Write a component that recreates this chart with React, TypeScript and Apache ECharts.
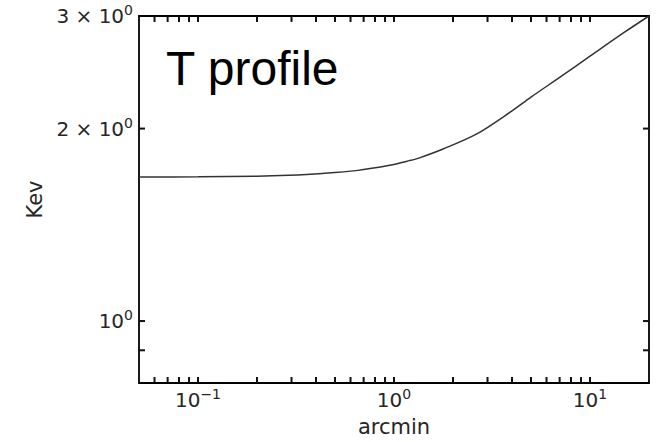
import React, { useEffect, useRef } from "react";
import * as echarts from "echarts";

// Curve (arcmin, keV)
const radiusArcmin = [0.05, 0.1, 0.2, 0.29, 0.43, 0.64, 0.95, 1.2, 1.35, 1.78, 2.63, 3.9, 5, 7, 10, 15, 20];
const temperatureKev = [1.68, 1.681, 1.685, 1.691, 1.702, 1.719, 1.752, 1.782, 1.8, 1.858, 1.96, 2.12, 2.24, 2.405, 2.596, 2.83, 3.0];

// Axis ranges
const xRange = [0.05, 20];
const yRange = [0.8, 3];

// Tick marks (raw values)
const xTickValues = [
  0.06, 0.07, 0.08, 0.09, 0.1,
  0.2, 0.3, 0.4, 0.5, 0.6, 0.7, 0.8, 0.9, 1,
  2, 3, 4, 5, 6, 7, 8, 9, 10,
];
const xLabelValues = [0.1, 1, 10];
const yTickValues = [0.9, 1, 2];
const yLabelValues = [1, 2, 3];
const yLabelTexts = ["{b|10}{s|0}", "{b|2 × 10}{s|0}", "{b|3 × 10}{s|0}"];

const lg = (v: number) => Math.log10(v);

const FONT = "DejaVu Sans";
const TXT = "#262626";
const TICK_LEN = 6;
const TICK_W = 2;

const rich = {
  b: { fontSize: 20, lineHeight: 26, fontFamily: FONT, color: TXT },
  s: { fontSize: 14, lineHeight: 14, verticalAlign: "top", fontFamily: FONT, color: TXT },
};

const xFormatter = (v: number) => {
  const e = Math.round(v);
  const es = e < 0 ? "\u2212" + Math.abs(e) : String(e);
  return `{b|10}{s|${es}}`;
};
const yFormatter = (v: number) => {
  for (let i = 0; i < yLabelValues.length; i++) {
    if (Math.abs(lg(yLabelValues[i]) - v) < 1e-6) return yLabelTexts[i];
  }
  return "";
};

export default function App() {
  const ref = useRef<HTMLDivElement>(null);
  useEffect(() => {
    if (!ref.current) return;
    const chart = echarts.init(ref.current, undefined, { renderer: "svg" });
    const mkAxisLine = () => ({ show: true, onZero: false, lineStyle: { color: "#000", width: 1.8 } });

    const xMin = lg(xRange[0]);
    const xMax = lg(xRange[1]);
    const yMin = lg(yRange[0]);
    const yMax = lg(yRange[1]);

    chart.setOption({
      animation: false,
      backgroundColor: "#fff",
      grid: { left: 139, right: 12, top: 16, bottom: 56, containLabel: false },
      xAxis: [
        {
          type: "value",
          min: xMin,
          max: xMax,
          position: "bottom",
          axisLine: mkAxisLine(),
          axisTick: { show: false },
          splitLine: { show: false },
          name: "arcmin",
          nameLocation: "middle",
          nameGap: 33,
          nameTextStyle: { fontSize: 21, fontFamily: FONT, color: TXT },
          axisLabel: {
            show: true,
            margin: 4,
            customValues: xLabelValues.map(lg),
            formatter: xFormatter,
            rich,
          },
        },
        {
          type: "value",
          min: xMin,
          max: xMax,
          position: "top",
          axisLine: mkAxisLine(),
          axisTick: { show: false },
          splitLine: { show: false },
          axisLabel: { show: false },
        },
      ],
      yAxis: [
        {
          type: "value",
          min: yMin,
          max: yMax,
          position: "left",
          axisLine: mkAxisLine(),
          axisTick: { show: false },
          splitLine: { show: false },
          name: "Kev",
          nameLocation: "middle",
          nameGap: 91,
          nameTextStyle: { fontSize: 21, fontFamily: FONT, color: TXT },
          axisLabel: {
            show: true,
            margin: 6,
            customValues: yLabelValues.map(lg),
            formatter: yFormatter,
            rich,
          },
        },
        {
          type: "value",
          min: yMin,
          max: yMax,
          position: "right",
          axisLine: mkAxisLine(),
          axisTick: { show: false },
          splitLine: { show: false },
          axisLabel: { show: false },
        },
      ],
      graphic: [
        {
          type: "text",
          left: 166,
          top: 44,
          style: {
            text: "T profile",
            fontSize: 48,
            fontFamily: "Liberation Sans, Arial, sans-serif",
            fill: "#000",
          },
        },
      ],
      series: [
        {
          type: "line",
          xAxisIndex: 0,
          yAxisIndex: 0,
          data: radiusArcmin.map((r, i) => [lg(r), lg(temperatureKev[i])]),
          showSymbol: false,
          smooth: 0.3,
          lineStyle: { color: "#333", width: 1.5 },
          z: 3,
        },
        {
          // x-axis tick marks (bottom and top, pointing inward)
          type: "custom",
          xAxisIndex: 0,
          yAxisIndex: 0,
          data: xTickValues.map((v) => [lg(v), yMin]),
          silent: true,
          z: 4,
          renderItem: (params: any, api: any) => {
            const b = api.coord([api.value(0), yMin]);
            const t = api.coord([api.value(0), yMax]);
            return {
              type: "group",
              children: [
                { type: "rect", shape: { x: b[0] - TICK_W / 2, y: b[1] - TICK_LEN, width: TICK_W, height: TICK_LEN }, style: { fill: "#111" } },
                { type: "rect", shape: { x: t[0] - TICK_W / 2, y: t[1], width: TICK_W, height: TICK_LEN }, style: { fill: "#111" } },
              ],
            };
          },
        },
        {
          // y-axis tick marks (left and right, pointing inward)
          type: "custom",
          xAxisIndex: 0,
          yAxisIndex: 0,
          data: yTickValues.map((v) => [xMin, lg(v)]),
          silent: true,
          z: 4,
          renderItem: (params: any, api: any) => {
            const l = api.coord([xMin, api.value(1)]);
            const r = api.coord([xMax, api.value(1)]);
            return {
              type: "group",
              children: [
                { type: "rect", shape: { x: l[0], y: l[1] - TICK_W / 2, width: TICK_LEN, height: TICK_W }, style: { fill: "#111" } },
                { type: "rect", shape: { x: r[0] - TICK_LEN, y: r[1] - TICK_W / 2, width: TICK_LEN, height: TICK_W }, style: { fill: "#111" } },
              ],
            };
          },
        },
      ],
    });
    return () => chart.dispose();
  }, []);
  return (
    <div
      ref={ref}
      style={{ position: "absolute", left: 0, top: 0, width: 661, height: 442 }}
    />
  );
}
